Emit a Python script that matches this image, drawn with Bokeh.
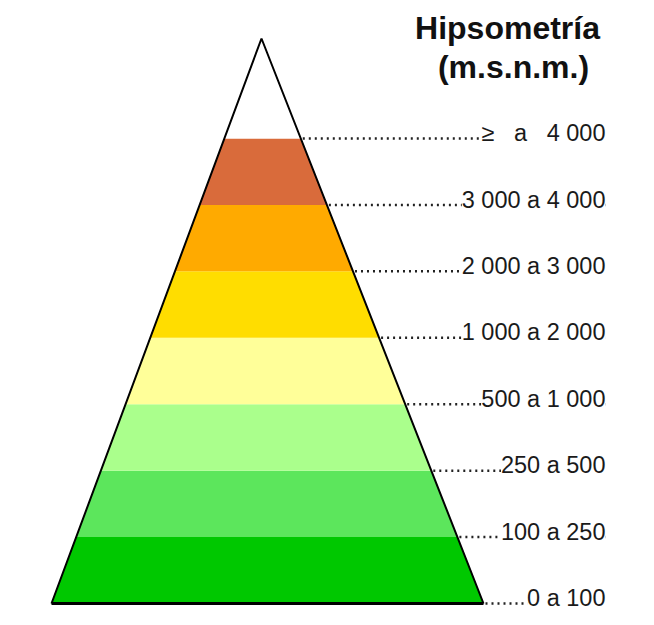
from bokeh.plotting import figure
from bokeh.models import Range1d, ColumnDataSource
from bokeh.embed import file_html
from bokeh.resources import INLINE
from bokeh.core.properties import value

# ---- data (bottom band first) ----
labels = ["0 a 100", "100 a 250", "250 a 500", "500 a 1 000",
          "1 000 a 2 000", "2 000 a 3 000", "3 000 a 4 000",
          "\u2265\u00a0\u00a0\u00a0a\u00a0\u00a0\u00a04 000"]
band_colors = ["#00C800", "#5CE65C", "#AAFF8C", "#FFFF99",
               "#FFDD00", "#FFAA00", "#D96B3B", "#FFFFFF"]
title_lines = ["Hipsometr\u00eda", "(m.s.n.m.)"]

# ---- layout ----
W, H = 638, 616
OFF = 0                       # page offset of the canvas in the snapshot
PX_PER_LEVEL = 66.43          # vertical size of one band
BASE_PAGE_Y = 603             # page y of the base line
def lvl(page_y):
    return (BASE_PAGE_Y - page_y) / PX_PER_LEVEL

APEX_X, BASE_L, BASE_R = 261, 51, 483
APEX = lvl(38)
n = len(labels)

def left(L):
    return BASE_L + (APEX_X - BASE_L) * L / APEX
def right(L):
    return BASE_R - (BASE_R - APEX_X) * L / APEX

p = figure(width=W, height=H, output_backend="svg", toolbar_location=None,
           x_range=Range1d(OFF, OFF + W), y_range=Range1d(lvl(OFF + H), lvl(OFF)),
           min_border=0)
p.axis.visible = False
p.grid.visible = False
p.outline_line_color = None
p.background_fill_color = "white"
p.border_fill_color = "white"

# bands
xs, ys, cols = [], [], []
for i in range(n):
    if i < n - 1:
        xs.append([left(i), right(i), right(i + 1), left(i + 1)])
        ys.append([i, i, i + 1, i + 1])
    else:
        xs.append([left(i), right(i), APEX_X])
        ys.append([i, i, APEX])
    cols.append(band_colors[i])
p.patches(xs=xs, ys=ys, fill_color=cols, line_color=None)

# triangle outline
p.line(x=[BASE_L, APEX_X, BASE_R], y=[0, APEX, 0], line_color="black", line_width=2)
p.line(x=[BASE_L, BASE_R], y=[0, 0], line_color="black", line_width=3)

# leaders
lv = list(range(n))
lsrc = ColumnDataSource(dict(x0=[right(i) + 2 for i in lv], y=lv, x1=[605] * n))
p.segment(x0="x0", y0="y", x1="x1", y1="y", source=lsrc,
          line_color="#222222", line_width=2.5, line_dash="2 4")

# labels (vertically centred a little above their leader)
tsrc = ColumnDataSource(dict(x=[605] * n, y=[i + 5.4 / PX_PER_LEVEL for i in lv], t=labels))
p.text(x="x", y="y", text="t", source=tsrc, text_align="right",
       text_baseline="middle", text_font=value("Liberation Sans"),
       text_font_size="23.5px", text_color="#1a1a1a",
       background_fill_color="white")

# title
p.text(x=[507, 513], y=[lvl(27), lvl(66)], text=title_lines, text_align="center",
       text_baseline="middle", text_font=value("Liberation Sans"),
       text_font_size="32px", text_font_style="bold", text_color="#111111")

open("out.html", "w").write(file_html(p, INLINE))
